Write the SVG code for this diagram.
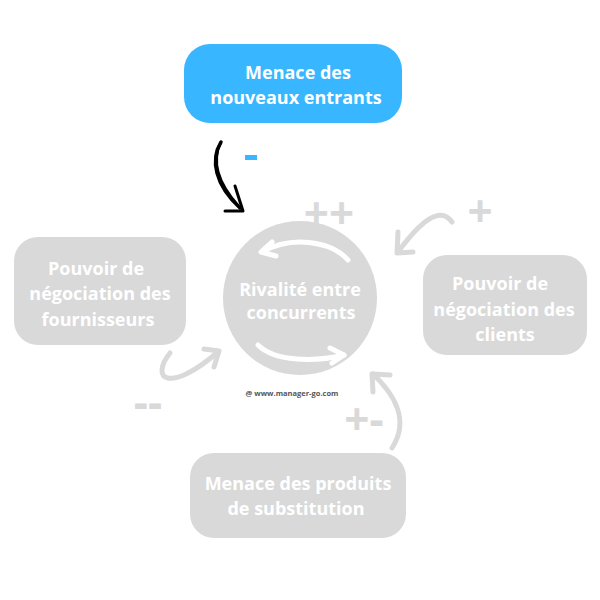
<svg xmlns="http://www.w3.org/2000/svg" width="600" height="600" viewBox="0 0 600 600">
<style>
.box{fill:#d9d9d9}
.lbl{font-family:"Open Sans","Noto Sans",sans-serif;font-weight:bold;font-size:18px;fill:#fff;text-anchor:middle}
.sign{font-family:"Open Sans","Noto Sans",sans-serif;font-weight:bold;font-size:44px;fill:#d9d9d9;text-anchor:middle}
.garr{fill:none;stroke:#d9d9d9;stroke-width:5;stroke-linecap:round;stroke-linejoin:round}
.warr{fill:none;stroke:#fff;stroke-width:5;stroke-linecap:round;stroke-linejoin:round}
</style>
<rect width="600" height="600" fill="#fff"/>
<g id="nouveaux">
<rect x="184" y="44" width="218" height="79" rx="26" fill="#38b6ff"/>
<text class="lbl" x="298" y="79">Menace des</text>
<text class="lbl" x="296" y="104">nouveaux entrants</text>
</g>
<g id="fournisseurs">
<rect class="box" x="14" y="237" width="172" height="108" rx="24"/>
<text class="lbl" x="96" y="275">Pouvoir de</text>
<text class="lbl" x="100" y="300">négociation des</text>
<text class="lbl" x="98" y="326">fournisseurs</text>
</g>
<g id="clients">
<rect class="box" x="423" y="255" width="164" height="100" rx="24"/>
<text class="lbl" x="500" y="290">Pouvoir de</text>
<text class="lbl" x="504" y="316">négociation des</text>
<text class="lbl" x="505" y="341">clients</text>
</g>
<g id="substitution">
<rect class="box" x="190" y="453" width="216" height="85" rx="24"/>
<text class="lbl" x="298" y="490">Menace des produits</text>
<text class="lbl" x="296" y="515">de substitution</text>
</g>
<g id="rivalite">
<circle cx="300" cy="298" r="77" fill="#d9d9d9"/>
<path class="warr" d="M348 260 C330 240 290 236 262 252"/>
<path class="warr" d="M272 242 L261 252 L276 256"/>
<path class="warr" d="M258 345 C275 362 315 362 344 355"/>
<path class="warr" d="M330 348 L344 355 L332 363"/>
<text class="lbl" x="300" y="296">Rivalité entre</text>
<text class="lbl" x="301" y="319">concurrents</text>
</g>
<text x="292" y="396" font-family="'Open Sans','Noto Sans',sans-serif" font-weight="bold" font-size="7.5" fill="#555" text-anchor="middle">@ www.manager-go.com</text>
<g id="connectors">
<path d="M221 142 C210 160 215 185 240 208" fill="none" stroke="#000" stroke-width="3.5" stroke-linecap="round"/>
<path d="M221 142 C212 162 218 182 238 205" fill="none" stroke="#000" stroke-width="2" stroke-linecap="round"/>
<path d="M235 186 L243 211 L225 211" fill="none" stroke="#000" stroke-width="3" stroke-linecap="round" stroke-linejoin="round"/>
<path class="garr" d="M452 222 C440 205 420 222 398 252"/>
<path class="garr" d="M398 232 L397 253 L413 252"/>
<path class="garr" d="M170 353 C150 378 168 395 218 352"/>
<path class="garr" d="M204 349 L219 351 L214 367"/>
<path class="garr" d="M392 448 C410 420 395 395 373 374"/>
<path class="garr" d="M373 392 L372 374 L390 375"/>
</g>
<rect x="245" y="155" width="12" height="5" fill="#38b6ff"/>
<text class="sign" x="329" y="229">++</text>
<text class="sign" x="480" y="227">+</text>
<text class="sign" x="148" y="418">--</text>
<text class="sign" x="364" y="435">+-</text>
</svg>
